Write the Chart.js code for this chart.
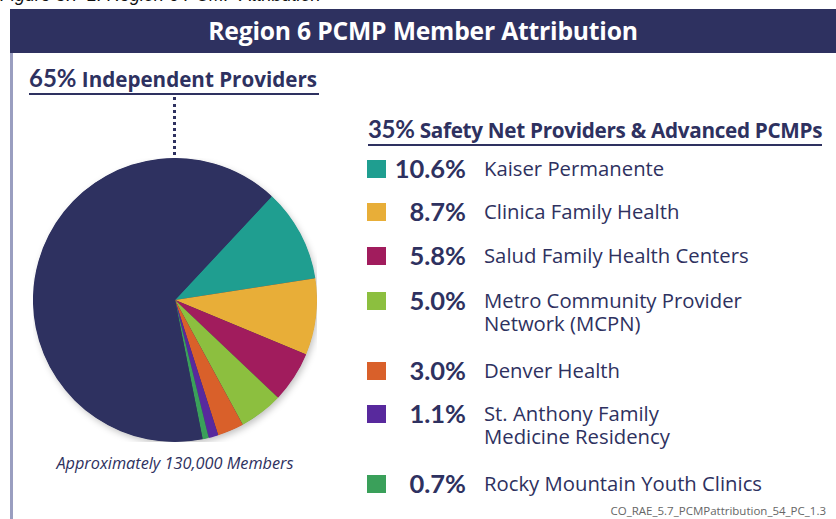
<!DOCTYPE html>
<html>
<head>
<meta charset="utf-8">
<script src="https://cdn.jsdelivr.net/npm/chart.js@4/dist/chart.umd.min.js"></script>
<style>
  html, body { margin:0; padding:0; background:#fff; }
  body { width:836px; height:519px; position:relative; overflow:hidden; font-family:"Open Sans", sans-serif; color:#2e3160; }
  .abs { position:absolute; white-space:nowrap; }
  #caption { left:0; top:-15px; font-family:"Liberation Sans", sans-serif; font-style:italic; font-size:18px; color:#111; }
  #titlebar { left:10px; top:9px; width:826px; height:44px; background:#2e3160; }
  #title { left:10px; width:826px; top:9px; height:44px; line-height:44px; text-align:center; color:#fff; font-weight:700; font-size:24.7px; font-family:"Open Sans", sans-serif; letter-spacing:-0.2px; }
  #frame { left:10px; top:53px; width:3px; height:470px; background:#9a9ec0; }
  #indep { left:29px; top:64px; font-size:20.6px; font-weight:700; border-bottom:2px solid #2e3160; padding-right:2px; line-height:27px; }
  .pct { font-family:"Lato", sans-serif; font-weight:700; }
  #dots { left:173px; top:97px; width:0; height:58px; border-left:3px dotted #2e3160; }
  #chartbox { position:absolute; left:33px; top:158px; width:284px; height:284px; }
  #members { left:33px; width:284px; top:452px; text-align:center; font-style:italic; font-size:16.3px; font-family:"Open Sans", sans-serif; }
  #safety { left:368px; top:115px; font-size:20.7px; font-weight:700; border-bottom:2px solid #2e3160; line-height:27px; letter-spacing:-0.3px; }
  .sw { position:absolute; width:19px; height:18px; }
  .lp { position:absolute; width:100px; text-align:right; font-family:"Lato", sans-serif; font-weight:700; font-size:25.5px; line-height:28px; }
  .ln { position:absolute; font-size:20.3px; line-height:22px; white-space:nowrap; }
  #footer { right:10px; bottom:1px; font-size:11.5px; color:#666; font-family:"Open Sans", sans-serif; }
</style>
</head>
<body>
<div class="abs" id="caption">Figure 5.7-1. Region 6 PCMP Attribution</div>
<div class="abs" id="titlebar"></div>
<div class="abs" id="title">Region 6 PCMP Member Attribution</div>
<div class="abs" id="frame"></div>
<div class="abs" id="indep"><span class="pct" style="font-size:24px">65%</span> Independent Providers</div>
<div class="abs" id="dots"></div>
<div id="chartbox"><canvas id="c"></canvas></div>
<div class="abs" id="members">Approximately 130,000 Members</div>
<div class="abs" id="safety"><span class="pct" style="font-size:24px">35%</span> Safety Net Providers &amp; Advanced PCMPs</div>
<div id="legend"></div>
<div class="abs" id="footer">CO_RAE_5.7_PCMPattribution_54_PC_1.3</div>

<script>
// ---- data ----
const categories = ["Kaiser Permanente", "Clinica Family Health", "Salud Family Health Centers",
  "Metro Community Provider Network (MCPN)", "Denver Health", "St. Anthony Family Medicine Residency",
  "Rocky Mountain Youth Clinics", "Independent Providers"];
const legendLines = [["Kaiser Permanente"], ["Clinica Family Health"], ["Salud Family Health Centers"],
  ["Metro Community Provider", "Network (MCPN)"], ["Denver Health"], ["St. Anthony Family", "Medicine Residency"],
  ["Rocky Mountain Youth Clinics"]];
const shares = [10.6, 8.7, 5.8, 5.0, 3.0, 1.1, 0.7, 65.0];
const percentLabels = ["10.6%", "8.7%", "5.8%", "5.0%", "3.0%", "1.1%", "0.7%"];
const colors = ["#1f9e90", "#e8ae38", "#a11c5d", "#8cbf3f", "#d9602a", "#58299d", "#3aa05a", "#2e3160"];

// ---- legend (HTML, from arrays) ----
const legendY = [169, 212, 256, 301, 371, 414, 484];
const leg = document.getElementById('legend');
legendLines.forEach((lines, i) => {
  const cy = legendY[i];
  const sw = document.createElement('div');
  sw.className = 'sw'; sw.style.left = '367px'; sw.style.top = (cy - 9) + 'px'; sw.style.background = colors[i];
  leg.appendChild(sw);
  const p = document.createElement('div');
  p.className = 'lp'; p.style.left = '366px'; p.style.top = (cy - 15) + 'px'; p.textContent = percentLabels[i];
  leg.appendChild(p);
  lines.forEach((line, j) => {
    const n = document.createElement('div');
    n.className = 'ln'; n.style.left = '484px'; n.style.top = (cy - 12 + j * 23) + 'px';
    n.textContent = line;
    leg.appendChild(n);
  });
});

// ---- pie ----
const shadowPlugin = {
  id: 'pieShadow',
  beforeDatasetsDraw(chart) {
    const arc = chart.getDatasetMeta(0).data[0];
    if (!arc) return;
    const ctx = chart.ctx;
    ctx.save();
    ctx.shadowColor = 'rgba(0,0,0,0.25)';
    ctx.shadowBlur = 7;
    ctx.shadowOffsetX = 2;
    ctx.shadowOffsetY = 3;
    ctx.fillStyle = '#2e3160';
    ctx.beginPath();
    ctx.arc(arc.x, arc.y, arc.outerRadius - 0.5, 0, Math.PI * 2);
    ctx.fill();
    ctx.restore();
  }
};

new Chart(document.getElementById('c'), {
  type: 'pie',
  data: {
    labels: categories,
    datasets: [{ data: shares, backgroundColor: colors, borderWidth: 0 }]
  },
  options: {
    responsive: true,
    maintainAspectRatio: false,
    animation: false,
    rotation: 43,
    layout: { padding: 0 },
    plugins: { legend: { display: false }, tooltip: { enabled: false } }
  },
  plugins: [shadowPlugin]
});
</script>
</body>
</html>
